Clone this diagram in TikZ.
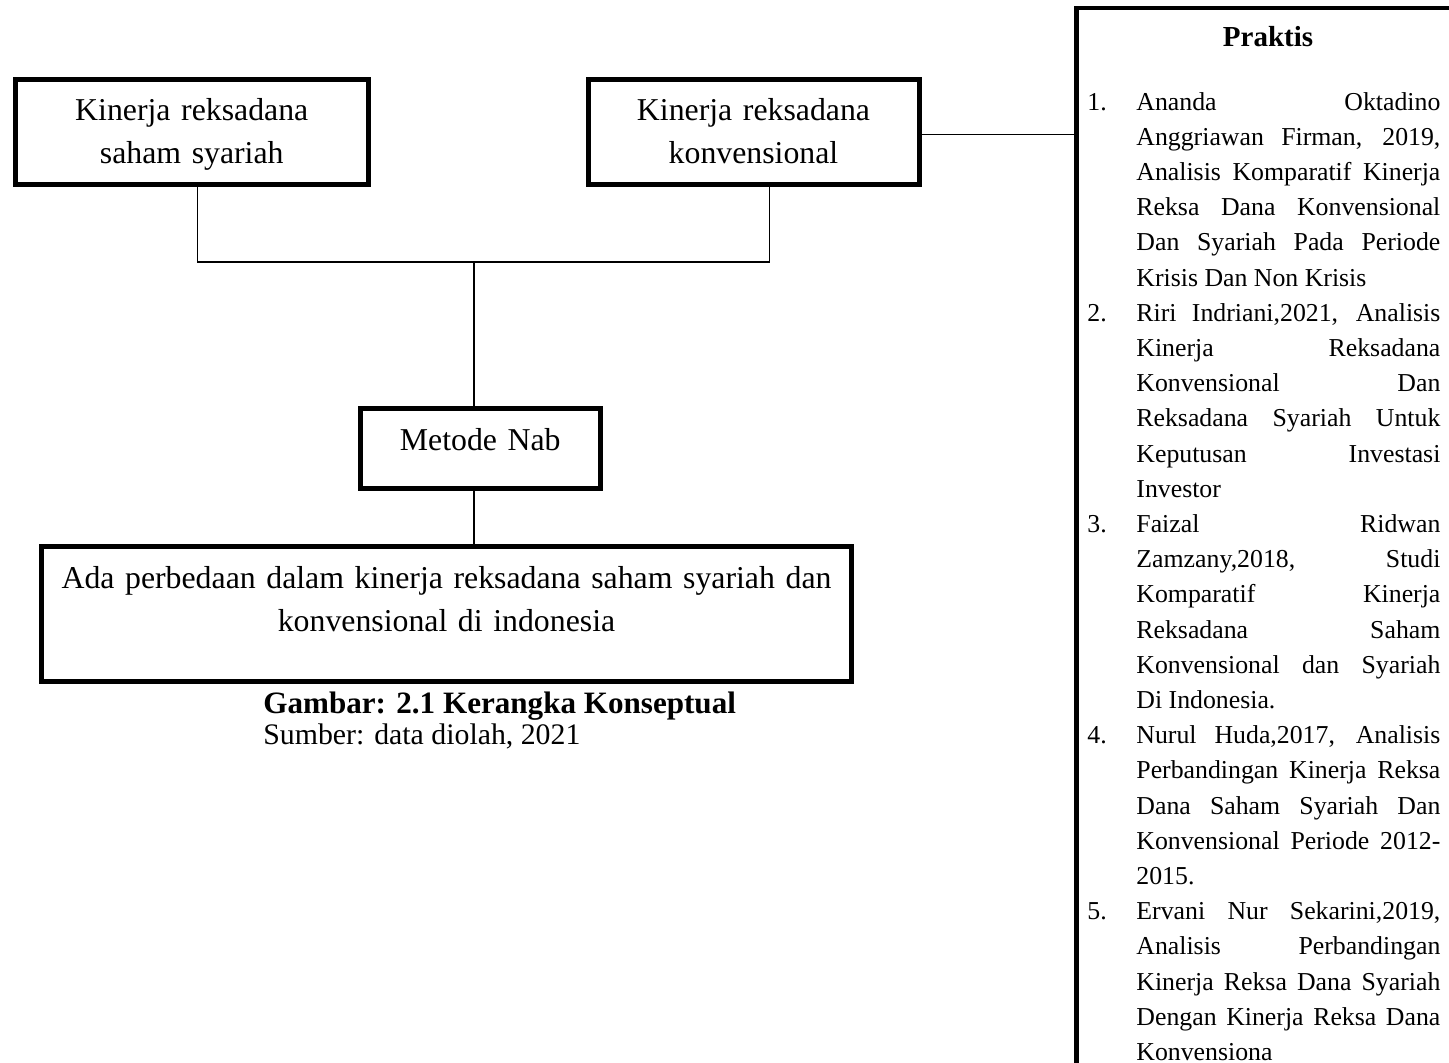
\documentclass[tikz,border=0pt]{standalone}
\usepackage{fontspec}
\setmainfont{Liberation Serif}
% one numbered entry with hanging indent
\newcommand{\butir}[2]{\hangindent=24.5pt\hangafter=1\makebox[24.5pt][l]{#1}#2}

\begin{document}
\begin{tikzpicture}[x=0.5pt, y=-0.5pt,
  kotak/.style={draw, line width=2.5pt, inner sep=0pt, align=center, anchor=north west,
    font=\fontsize{15.9}{21.5}\selectfont, text height=20.75pt},
  garis/.style={line width=0.7pt}]
\useasboundingbox (0,0) rectangle (1449,1062);
\clip (0,0) rectangle (1449,1062);

% variable boxes
\node[kotak, text width=176.25pt, text depth=31.75pt] (syariah) at (13,76.5)
  {Kinerja reksadana\\saham syariah};
\node[kotak, text width=165.5pt, text depth=31.75pt] (konv) at (585.5,76.5)
  {Kinerja reksadana\\konvensional};
\node[kotak, text width=120.25pt, text depth=19pt] (metode) at (357.5,406) {Metode Nab};
\node[kotak, text width=405pt, text depth=46.5pt] (hasil) at (39,544)
  {Ada perbedaan dalam kinerja reksadana saham syariah dan\\konvensional di indonesia};

% connectors
\coordinate (tengah) at (474,262);
\draw[garis] ([xshift=3pt]syariah.south) |- (tengah) -| ([xshift=8pt]konv.south);
\draw[garis] (tengah) -- (tengah |- metode.north);
\draw[garis] (tengah |- metode.south) -- (tengah |- hasil.north);

% caption
\node[anchor=base west, inner sep=0pt, font=\bfseries\fontsize{15.55}{18}\selectfont] (judul)
  at (263,713) {Gambar: 2.1 Kerangka Konseptual};
\node[anchor=base west, inner sep=0pt, font=\fontsize{14.9}{18}\selectfont] (sumber)
  at (263,744) {Sumber: data diolah, 2021};

% praktis box
\node[draw, line width=2.25pt, anchor=north west, inner sep=0pt, minimum width=194pt,
  minimum height=547pt] (praktis) at (1074,5.8) {};
\coordinate (sambung) at ([yshift=-1.5pt]konv.east);
\draw[garis] (sambung) -- (sambung -| praktis.west);
\node[anchor=base, inner sep=0pt, font=\bfseries\fontsize{14.5}{17}\selectfont] (judulpraktis)
  at (1268,46.7) {Praktis};
\node[anchor=base west, inner sep=0pt, text width=176.5pt, align=justify,
  font=\fontsize{12.9}{17.6}\selectfont] (daftar) at (1087,110) {%
\hyphenpenalty=10000
\butir{1.}{Ananda Oktadino\linebreak Anggriawan Firman, 2019,\linebreak Analisis Komparatif Kinerja\linebreak Reksa Dana Konvensional\linebreak Dan Syariah Pada Periode\linebreak Krisis Dan Non Krisis}\par
\butir{2.}{Riri Indriani,2021, Analisis\linebreak Kinerja Reksadana\linebreak Konvensional Dan\linebreak Reksadana Syariah Untuk\linebreak Keputusan Investasi\linebreak Investor}\par
\butir{3.}{Faizal Ridwan\linebreak Zamzany,2018, Studi\linebreak Komparatif Kinerja\linebreak Reksadana Saham\linebreak Konvensional dan Syariah\linebreak Di Indonesia.}\par
\butir{4.}{Nurul Huda,2017, Analisis\linebreak Perbandingan Kinerja Reksa\linebreak Dana Saham Syariah Dan\linebreak Konvensional Periode 2012-\linebreak 2015.}\par
\butir{5.}{Ervani Nur Sekarini,2019,\linebreak Analisis Perbandingan\linebreak Kinerja Reksa Dana Syariah\linebreak Dengan Kinerja Reksa Dana\linebreak Konvensiona}\par};
\end{tikzpicture}
\end{document}
